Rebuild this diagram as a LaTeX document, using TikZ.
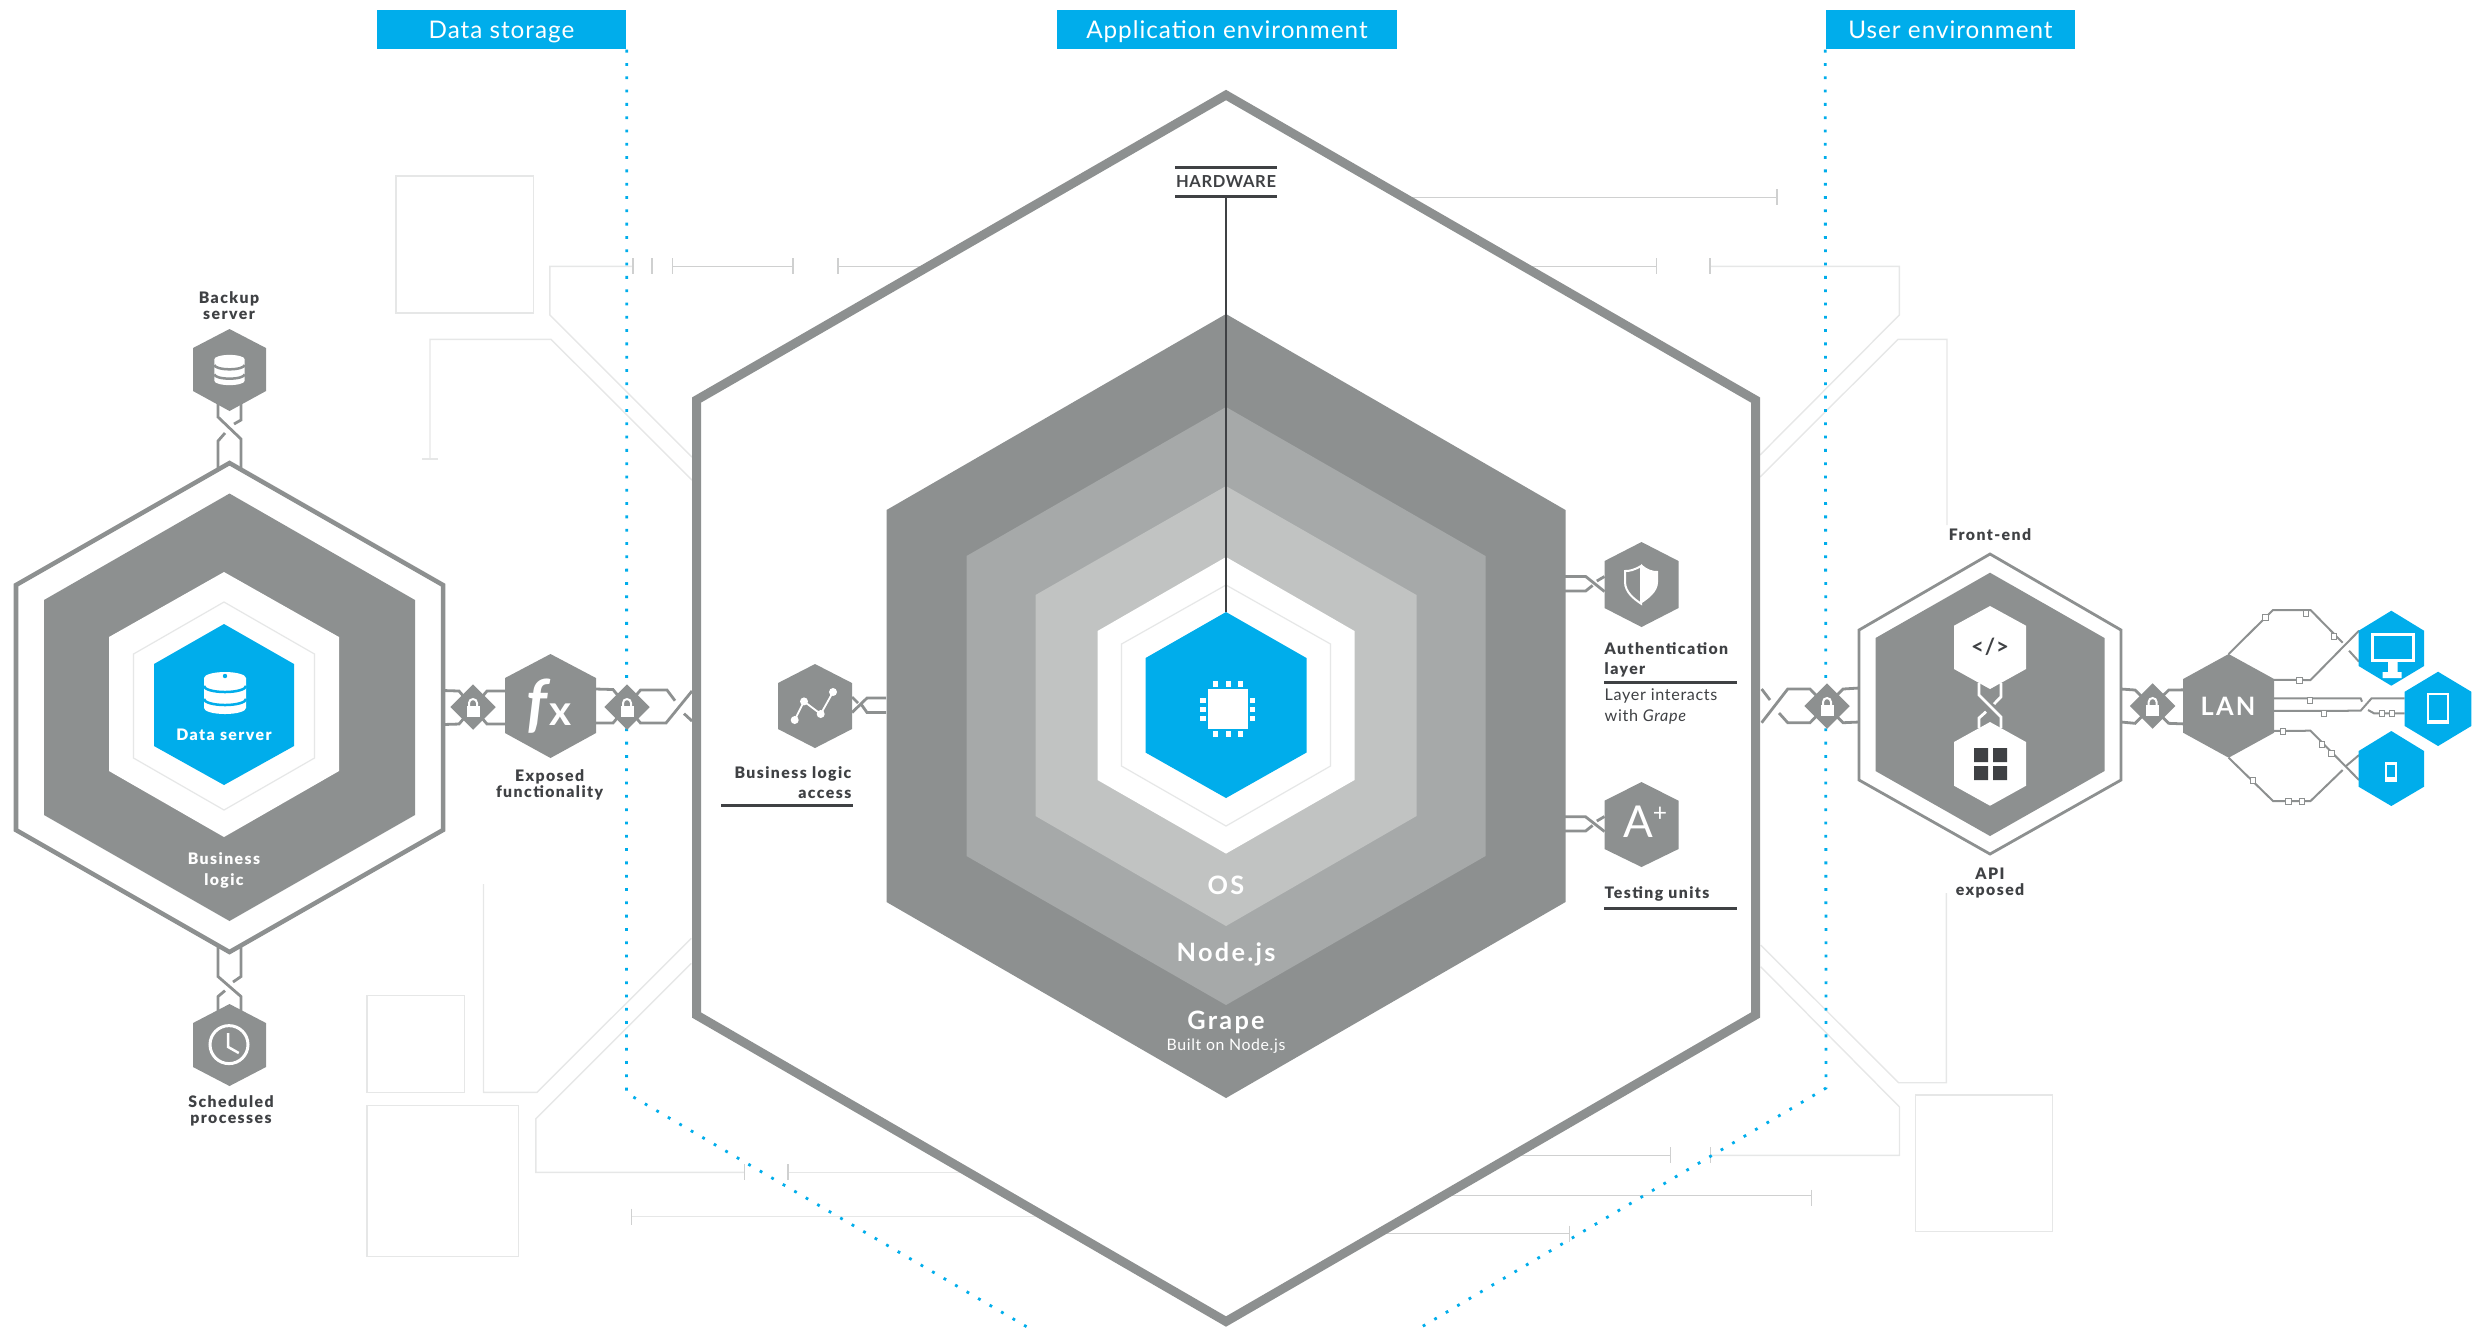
\documentclass[tikz,border=0pt]{standalone}
\usepackage{fontspec}
\setmainfont[LetterSpace=4]{Lato}
\newfontfamily\heavyfont[LetterSpace=9]{Lato Black}
\newfontfamily\bigfont[LetterSpace=9]{Lato}
\usetikzlibrary{shapes.geometric}
\definecolor{grape}{HTML}{8D9090}
\definecolor{nodejs}{HTML}{A6A9A9}
\definecolor{opsys}{HTML}{C1C3C2}
\definecolor{sky}{HTML}{00ADEB}
\definecolor{ink}{HTML}{3F4144}
\definecolor{faint}{HTML}{E6E7E7}
\definecolor{tickgray}{HTML}{CFD0D0}
\newcommand{\hexa}[8][]{%
  \path[#1] (#3,#5) -- ({#3+#4},#6) -- ({#3+#4},#7) -- (#3,#8) -- ({#3-#4},#7) -- ({#3-#4},#6) -- cycle;
  \node[inner sep=0pt,outer sep=0pt,minimum width=#4*0.02cm,minimum height={(#8-#5)*0.01cm}] (#2) at (#3,{(#5+#8)/2}) {};}
\newcommand{\dbicon}[4]{%
  \begin{scope}[shift={(#1,#2)},scale=#3]
    \fill[white] (-21,-15) -- (-21,15) arc[x radius=21,y radius=6,start angle=180,end angle=0] -- (21,-15) arc[x radius=21,y radius=6,start angle=0,end angle=-180] -- cycle;
    \draw[#4,line width=0.025cm] (-21,-7) arc[x radius=21,y radius=6,start angle=180,end angle=0];
    \draw[#4,line width=0.025cm] (-21,6) arc[x radius=21,y radius=6,start angle=180,end angle=0];
  \end{scope}}
\begin{document}
\begin{tikzpicture}[x=0.01cm,y=-0.01cm,
    link/.style={draw=grape,line width=0.028cm,fill=none},
    wlink/.style={draw=white,line width=0.028cm,fill=none},
    wire/.style={draw=grape,line width=0.02cm,fill=none},
    trace/.style={draw=faint,line width=0.014cm},
    tracedark/.style={draw=tickgray,line width=0.014cm},
    dots/.style={draw=sky,line width=0.028cm,dash pattern=on 0.028cm off 0.105cm},
    rulebar/.style={draw=ink,line width=0.03cm},
    lbl/.style={inner sep=0pt,text=ink,align=center,font=\fontsize{4.5}{4.55}\selectfont\heavyfont},
    lbll/.style={lbl,align=left,anchor=west},
    plain/.style={lbl,font=\fontsize{4.6}{5.9}\selectfont},
    wlbl/.style={lbl,text=white},
    big/.style={wlbl,font=\fontsize{7.2}{7.5}\selectfont\bigfont\bfseries},
    headbox/.style={fill=sky,text=white,inner sep=0pt,minimum height=0.39cm,text height=6.4pt,text depth=1.4pt,font=\fontsize{6.9}{7}\selectfont},
    lockbox/.style={diamond,aspect=1,fill=grape,inner sep=0pt,minimum size=0.46cm}]
  \useasboundingbox (0,0) rectangle (2486,1329);
  % background traces
  \draw[trace] (396,176) rectangle (533.7,313);
  \draw[trace] (692,457) -- (549.8,315) -- (549.8,266.3) -- (632.4,266.3);
  \draw[trace] (692,480) -- (551,339.3) -- (430,339.3) -- (430,458.7);
  \draw[trace] (422,459) -- (438,459);
  \draw[tracedark] (672.6,266.3) -- (793,266.3);
  \draw[tracedark] (838,266.3) -- (930,266.3);
  \draw[tracedark] (1400,197.3) -- (1777,197.3);
  \draw[tracedark] (1520,266.3) -- (1656.4,266.3);
  \draw[trace] (1709.8,266.3) -- (1899.3,266.3) -- (1899.3,315) -- (1760,455);
  \draw[trace] (1760,477) -- (1898,339.3) -- (1947,339.3) -- (1947,525);
  \draw[trace] (1760.7,945) -- (1898.5,1082.7) -- (1946.4,1082.7) -- (1946.4,893);
  \draw[trace] (1760.7,966.7) -- (1899.5,1107) -- (1899.5,1155.3) -- (1710.2,1155.3);
  \draw[tracedark] (1510,1155.3) -- (1670.4,1155.3);
  \draw[tracedark] (1440,1195.3) -- (1811.7,1195.3);
  \draw[tracedark] (1375,1233.3) -- (1569.4,1233.3);
  \draw[trace] (1915.3,1095) rectangle (2052.6,1231.7);
  \draw[trace] (367,995.3) rectangle (464.6,1092.3);
  \draw[trace] (483.5,884) -- (483.5,1092.3) -- (537,1092.3) -- (691.3,938.3);
  \draw[trace] (367,1105.3) rectangle (518.5,1256.7);
  \draw[trace] (691.3,963.3) -- (535.8,1118.7) -- (535.8,1172.3) -- (744.7,1172.3);
  \draw[trace] (787.8,1172.3) -- (970,1172.3);
  \draw[trace] (631.6,1216.7) -- (1045,1216.7);
  \foreach \tx/\ty in {633/266.3,652/266.3,672.6/266.3,793/266.3,838/266.3,1777/197.3,1656.4/266.3,1709.8/266.3,1710.2/1155.3,1670.4/1155.3,1811.7/1197.5,1569.4/1233.5,744.7/1172.3,787.8/1172.3,631.6/1216.7}
    \draw[tracedark] (\tx,\ty) ++(0,-8) -- ++(0,16);
  % application environment
  \hexa[fill=white,draw=grape,line width=0.09cm]{appHex}{1226}{529.5}{95}{400}{1015}{1321.5}
  \hexa[fill=grape]{grapeHex}{1226}{339.5}{314}{510}{902}{1098}
  \hexa[fill=nodejs]{nodeHex}{1226}{259.5}{407}{556}{856}{1005}
  \hexa[fill=opsys]{osHex}{1226}{190.5}{486}{595}{816}{926}
  \hexa[fill=white]{coreRing}{1226}{128.5}{557}{631}{780}{853.6}
  \hexa[draw=faint,line width=0.012cm]{coreLine}{1226}{104.5}{585}{644}{766}{826}
  \hexa[fill=sky]{coreHex}{1226}{80.5}{612}{658}{752.5}{798}
  \node[inner sep=0pt,minimum width=0.98cm,minimum height=0.28cm,text=ink,font=\fontsize{4.7}{5}\selectfont\bfseries] (hw) at (1226,182) {HARDWARE};
  \draw[rulebar] (hw.north west) -- (hw.north east);
  \draw[rulebar] (hw.south west) -- (hw.south east);
  \draw[draw=ink,line width=0.014cm] (hw.south) -- (coreHex.north);
  \fill[white] (1208,689) rectangle (1248,728.6);
  \foreach \p in {1215,1228,1240} {
    \fill[white] (\p,681.4) ++(-2.5,0) rectangle ++(5,5.4);
    \fill[white] (\p,731) ++(-2.5,0) rectangle ++(5,6);
  }
  \foreach \p in {700,709,718} {
    \fill[white] (1200,\p) ++(0,-2.5) rectangle ++(5.5,5);
    \fill[white] (1249.5,\p) ++(0,-2.5) rectangle ++(5.5,5);
  }
  \node[big] (osTxt) at (1226,885) {OS};
  \node[big] (nodeTxt) at (1226,954.6) {Node.js};
  \node[big] (grapeTxt) at (1226,1022) {Grape};
  \node[lbl,text=white,font=\fontsize{4.5}{5}\selectfont] (builtTxt) at (1226,1045.7) {Built on Node.js};
  % headers
  \node[headbox,minimum width=2.49cm] (dsHead) at (501.5,29.5) {Data storage};
  \node[headbox,minimum width=3.4cm] (aeHead) at (1227,29.5) {Application environment};
  \node[headbox,minimum width=2.49cm] (ueHead) at (1950.5,29.5) {User environment};
  \draw[dots] (dsHead.south east) -- (626.5,1093) -- (1030.6,1329);
  \draw[dots] (ueHead.south west) -- (1826,1088) -- (1418,1329);
  % data storage
  \draw[link] (218,400) -- (218,417) -- (241,439) -- (241,470);
  \draw[link] (241,400) -- (241,420) -- (234,424);
  \draw[link] (225,433) -- (218,441) -- (218,470);
  \draw[link] (218,945) -- (218,976.5) -- (241,996.5) -- (241,1015);
  \draw[link] (241,945) -- (241,976.5) -- (233,982);
  \draw[link] (225,990.6) -- (218,996.5) -- (218,1015);
  \hexa[fill=white,draw=grape,line width=0.045cm]{frameHex}{229.5}{213.5}{463}{585}{830}{952}
  \hexa[fill=grape]{logicHex}{229.5}{185.5}{493.5}{600}{815}{921}
  \hexa[fill=white]{dataRing}{224}{115}{572}{637}{771}{837}
  \hexa[draw=faint,line width=0.012cm]{dataLine}{224}{90.5}{602}{654}{758}{810}
  \hexa[fill=sky]{dataHex}{224}{70}{624}{664}{746}{785}
  \dbicon{225}{693}{1}{sky}
  \fill[sky] (225,676) circle[radius=2.2];
  \node[wlbl] (dataTxt) at (224,735) {Data server};
  \node[wlbl] (logicTxt) at (224,870.5) {Business\\[1.2pt]logic};
  \hexa[fill=grape]{backHex}{229.5}{36.5}{329}{348}{391}{411}
  \dbicon{229.5}{370}{0.72}{grape}
  \node[lbl] (backTxt) at (229,305.5) {Backup\\server};
  \hexa[fill=grape]{clockHex}{229.5}{36.5}{1004}{1023}{1067}{1086}
  \draw[white,line width=0.03cm] (229,1044.6) circle[radius=19];
  \draw[white,line width=0.025cm] (228.2,1033) -- (228.2,1047) -- (238.8,1053);
  \node[lbl] (clockTxt) at (231,1110.5) {Scheduled\\processes};
  \hexa[fill=grape]{fxHex}{550.5}{45.5}{654}{678}{733}{758}
  \node[lbl,text=white,font=\fontsize{18}{18}\selectfont\bfseries] (fxTxt) at (549,706) {\itshape f\hspace{0.4pt}\upshape\fontsize{12}{12}\selectfont x};
  \node[lbl] (fxLbl) at (549.6,785) {Exposed\\functionality};
  \draw[link] ([shift={(0,-17)}]frameHex.east) -- (459,691) -- (487,724) -- ([shift={(0,18)}]fxHex.west);
  \draw[link] ([shift={(0,17)}]frameHex.east) -- (459,724) -- (487,691) -- ([shift={(0,-15)}]fxHex.west);
  \draw[link] ([shift={(0,-17)}]fxHex.east) -- (613,689.5) -- (640.5,723) -- (666,723) -- (692,691);
  \draw[link] ([shift={(0,17)}]fxHex.east) -- (613,723) -- (640.5,690) -- (667,690) -- (675,700.7);
  \draw[link] (684,713.6) -- (692,721);
  \node[lockbox] (lockA) at (473,707) {};
  \node[lockbox] (lockB) at (627,707) {};
  % application side nodes
  \hexa[fill=grape]{bizHex}{815}{37}{664}{683}{729}{748}
  \draw[white,line width=0.018cm] (794.7,720) -- (804,701.4) -- (820.7,714) -- (833,692);
  \foreach \p/\q in {794.7/720,804/701.4,820.7/714,833/692} \fill[white] (\p,\q) circle[radius=4];
  \node[lbl,anchor=east,align=right] (bizTxt) at (852,782.5) {Business logic\\[1.2pt]access};
  \draw[rulebar] (721,805) -- (853,805);
  \draw[link] (886,698) -- (867,698) -- ([shift={(0,6.5)}]bizHex.east);
  \draw[link] (886,712.5) -- (867,712.5) -- (861,704);
  \draw[link] ([shift={(0,-9)}]bizHex.east) -- ++(6,6);
  \hexa[fill=grape]{authHex}{1641.5}{37}{542}{561}{608}{627}
  \draw[white,line width=0.02cm] (1641,566) .. controls (1634,570) and (1630,571) .. (1625,571) -- (1625,582) .. controls (1625,592) and (1634,599) .. (1641,603.6) -- cycle;
  \fill[white] (1641,564) .. controls (1648,570) and (1652,571) .. (1658,571) -- (1658,582) .. controls (1658,592) and (1648,599) .. (1641,603.6) -- cycle;
  \node[lbll] (authTxt) at (1604,659.5) {Authentication\\[1.2pt]layer};
  \draw[rulebar] (1604,682) -- (1736.5,682);
  \node[plain,align=left,anchor=west] (authSub) at (1604,706.5) {Layer interacts\\with {\itshape Grape}};
  \draw[link] (1565,576.4) -- (1585.6,576.4) -- ([shift={(0,7)}]authHex.west);
  \draw[link] (1565,591) -- (1585.6,591) -- (1592.6,585.4);
  \draw[link] (1596.8,581) -- ([shift={(0,-8)}]authHex.west);
  \hexa[fill=grape]{gradeHex}{1641.5}{37}{782}{800.7}{849}{867}
  \node[lbl,text=white,font=\fontsize{12.5}{12.5}\selectfont] (gradeTxt) at (1645,822) {A\raisebox{4.5pt}{\fontsize{7}{7}\selectfont +}};
  \node[lbll] (gradeLbl) at (1604,893.6) {Testing units};
  \draw[rulebar] (1604,908) -- (1736.5,908);
  \draw[link] (1565,816.8) -- (1585.6,816.8) -- ([shift={(0,7)}]gradeHex.west);
  \draw[link] (1565,831) -- (1585.6,831) -- (1592.6,825.4);
  \draw[link] (1596.8,821) -- ([shift={(0,-8)}]gradeHex.west);
  % user environment
  \hexa[fill=white,draw=grape,line width=0.028cm]{frontHex}{1990}{131}{554}{630}{780}{854}
  \hexa[fill=grape]{frontIn}{1990}{114.5}{572.7}{638}{771}{836}
  \draw[wlink] (1979,683) -- (1979,695) -- (2001,717) -- (2001,728);
  \draw[wlink] (2001,683) -- (2001,696.7) -- (1994,704);
  \draw[wlink] (1986,711.7) -- (1979,718) -- (1979,728);
  \hexa[fill=white]{htmlHex}{1990}{36}{606}{625.7}{669}{689}
  \hexa[fill=white]{apiHex}{1990}{36}{722}{742}{785.7}{805.7}
  \node[lbl,font=\fontsize{6.3}{7}\selectfont\bfseries] (htmlTxt) at (1990,647) {</>};
  \fill[ink] (1974,748) rectangle (1988,762) (1993,748) rectangle (2007,762) (1974,766) rectangle (1988,780) (1993,766) rectangle (2007,780);
  \node[lbl] (frontTxt) at (1990,535) {Front-end};
  \node[lbl] (apiTxt) at (1990,882.7) {API\\exposed};
  \hexa[fill=grape]{lanHex}{2228.6}{45.5}{654}{679}{732.7}{757.7}
  \node[big] (lanTxt) at (2228,706) {LAN};
  \draw[link] (1761.6,689) -- (1770,700);
  \draw[link] (1779,713) -- (1787.7,722.7) -- (1810,722.7) -- (1843,689) -- ([shift={(0,-16)}]frontHex.west);
  \draw[link] (1761.6,722.7) -- (1787.7,689) -- (1810,689) -- (1843,722.7) -- ([shift={(0,18)}]frontHex.west);
  \draw[link] ([shift={(0,-15)}]frontHex.east) -- (2135,690) -- (2168.7,723.3) -- ([shift={(0,18)}]lanHex.west);
  \draw[link] ([shift={(0,18)}]frontHex.east) -- (2135,723.3) -- (2168.7,690) -- ([shift={(0,-16)}]lanHex.west);
  \node[lockbox] (lockC) at (1827,706) {};
  \node[lockbox] (lockD) at (2152.6,706) {};
  \foreach \lk in {lockA,lockB,lockC,lockD} {
    \fill[white] ([shift={(-6.5,-1)}]\lk.center) rectangle ([shift={(6.5,10)}]\lk.center);
    \draw[white,line width=0.02cm] ([shift={(-4,-1)}]\lk.center) -- ++(0,-3) arc[radius=4,start angle=180,end angle=360] -- ++(0,3);
  }
  % devices
  \draw[wire] (lanHex.north) -- (2273,610) -- (2310.5,610) -- (2342.6,642.7);
  \draw[wire] (2349,650.7) -- (2359,661.7);
  \draw[wire] ([shift={(0,-26)}]lanHex.east) -- (2310.5,680) -- (2359,630.7);
  \draw[wire] ([shift={(0,-7.5)}]lanHex.east) -- (2360.6,698.3) -- (2362,701.7);
  \draw[wire] ([shift={(0,5)}]lanHex.east) -- (2360.6,710.7) -- (2371.5,698.3) -- (2404.7,698.3);
  \draw[wire] (2368,710) -- (2374,713.3) -- (2404.7,713.3);
  \draw[wire] ([shift={(0,25)}]lanHex.east) -- (2310.5,730.7) -- (2359,780);
  \draw[wire] (lanHex.south) -- (2273,801) -- (2310.5,801) -- (2342.6,770);
  \draw[wire] (2346,766) -- (2359,755);
  \foreach \sx/\sy in {2265.4/617.3,2305.6/613.3,2334/636.7,2299.5/680.3,2309.6/700.3,2323.7/713,2382/713.3,2391.7/713.3,2283/731.3,2321.8/744,2331.4/753.7,2253/780.7,2288.4/801,2302/801}
    \filldraw[draw=grape,fill=white,line width=0.01cm] (\sx,\sy) ++(-2.6,-3) rectangle ++(5.2,6);
  \hexa[fill=sky]{monHex}{2391.3}{32.7}{610.7}{630.7}{666}{685.7}
  \hexa[fill=sky]{tabHex}{2438}{33.3}{671.7}{691.7}{726}{746}
  \hexa[fill=sky]{phoneHex}{2391.3}{32.7}{731}{751}{786.7}{806}
  \draw[white,line width=0.03cm] (2372,634) rectangle (2413,660);
  \fill[white] (2388,660) rectangle (2397.7,672) (2382.7,672) rectangle (2401.7,678);
  \draw[white,line width=0.02cm] (2428,694) rectangle (2448.4,723);
  \fill[white] (2428,720) rectangle (2448.4,723);
  \fill[white] (2385,761.7) rectangle (2397,781.7);
  \fill[sky] (2386.7,765) rectangle (2395.3,777);
\end{tikzpicture}
\end{document}
